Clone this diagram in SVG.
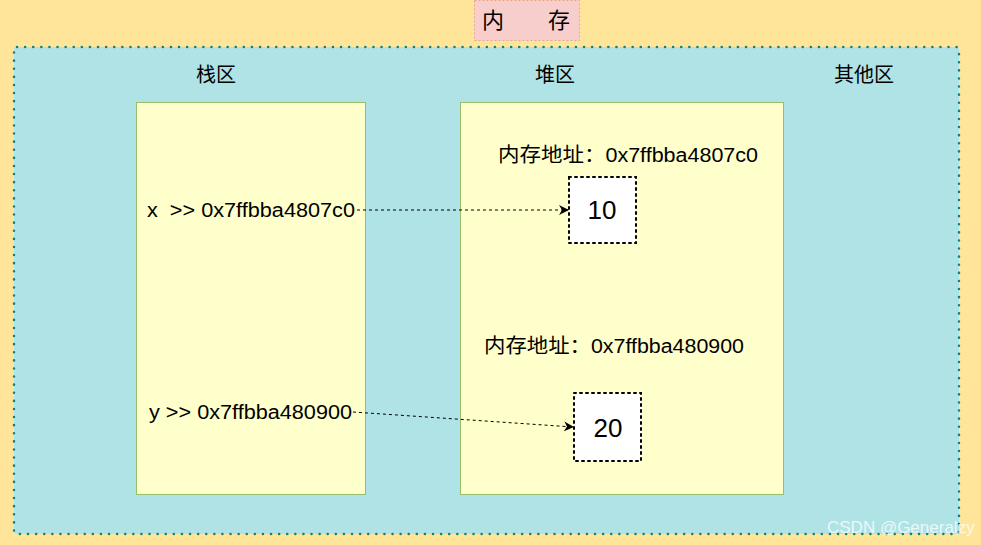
<svg xmlns="http://www.w3.org/2000/svg" width="981" height="545" viewBox="0 0 981 545">
<defs>
<style>
.t{font-family:"Liberation Sans","Noto Sans CJK SC",sans-serif;fill:#000;}
.area{fill:#FFFFCC;stroke:#97C06A;stroke-width:1;}
.cell{fill:#FFFFFF;stroke:#000;stroke-width:2;stroke-dasharray:2 4;stroke-linecap:round;}
.conn{fill:none;stroke:#000;stroke-width:1;stroke-dasharray:3 3;}
</style>
<marker id="ah" viewBox="0 0 10 10" refX="9" refY="5" markerWidth="10" markerHeight="10" markerUnits="userSpaceOnUse" orient="auto">
<path d="M0,0 L10,5 L0,10 L3,5 Z" fill="#000"/>
</marker>
</defs>
<rect x="0" y="0" width="981" height="545" fill="#FFE599"/>
<g id="title">
<rect x="474.5" y="0.5" width="105" height="40" fill="#F8CECC" stroke="#E8A0A0" stroke-width="1" stroke-dasharray="2 2"/>
<text class="t" x="526" y="28" font-size="22" text-anchor="middle">内　　存</text>
</g>
<g id="memory">
<rect x="14" y="47" width="945" height="487" rx="3" fill="#B0E3E6" stroke="#0E8088" stroke-width="2.5" stroke-dasharray="0.1 8" stroke-linecap="round"/>
<text class="t" x="216" y="82" font-size="20" text-anchor="middle">栈区</text>
<text class="t" x="555" y="82" font-size="20" text-anchor="middle">堆区</text>
<text class="t" x="864" y="82" font-size="20" text-anchor="middle">其他区</text>
</g>
<g id="stack">
<rect class="area" x="136.5" y="102.5" width="229" height="392"/>
<text class="t" x="147" y="217" font-size="20" xml:space="preserve" textLength="208" lengthAdjust="spacingAndGlyphs">x  &gt;&gt; 0x7ffbba4807c0</text>
<text class="t" x="149" y="419" font-size="20" textLength="203" lengthAdjust="spacingAndGlyphs">y &gt;&gt; 0x7ffbba480900</text>
</g>
<g id="heap">
<rect class="area" x="460.5" y="102.5" width="323" height="392"/>
<text class="t" x="498" y="162" font-size="20" textLength="260" lengthAdjust="spacingAndGlyphs">内存地址：0x7ffbba4807c0</text>
<text class="t" x="484" y="353" font-size="20" textLength="260" lengthAdjust="spacingAndGlyphs">内存地址：0x7ffbba480900</text>
</g>
<g id="cell10">
<rect class="cell" x="569" y="177" width="67" height="66"/>
<text class="t" x="602" y="219" font-size="26" text-anchor="middle">10</text>
</g>
<g id="cell20">
<rect class="cell" x="574" y="393" width="67" height="68"/>
<text class="t" x="608" y="437" font-size="26" text-anchor="middle">20</text>
</g>
<g id="connectors">
<path class="conn" d="M357,210 L568,210" marker-end="url(#ah)"/>
<path class="conn" d="M353,412 L573,427" marker-end="url(#ah)"/>
</g>
<text x="827" y="533" font-family="Liberation Sans,sans-serif" font-size="17" fill="#FFFFFF" fill-opacity="0.75">CSDN @Generalzy</text>
</svg>
